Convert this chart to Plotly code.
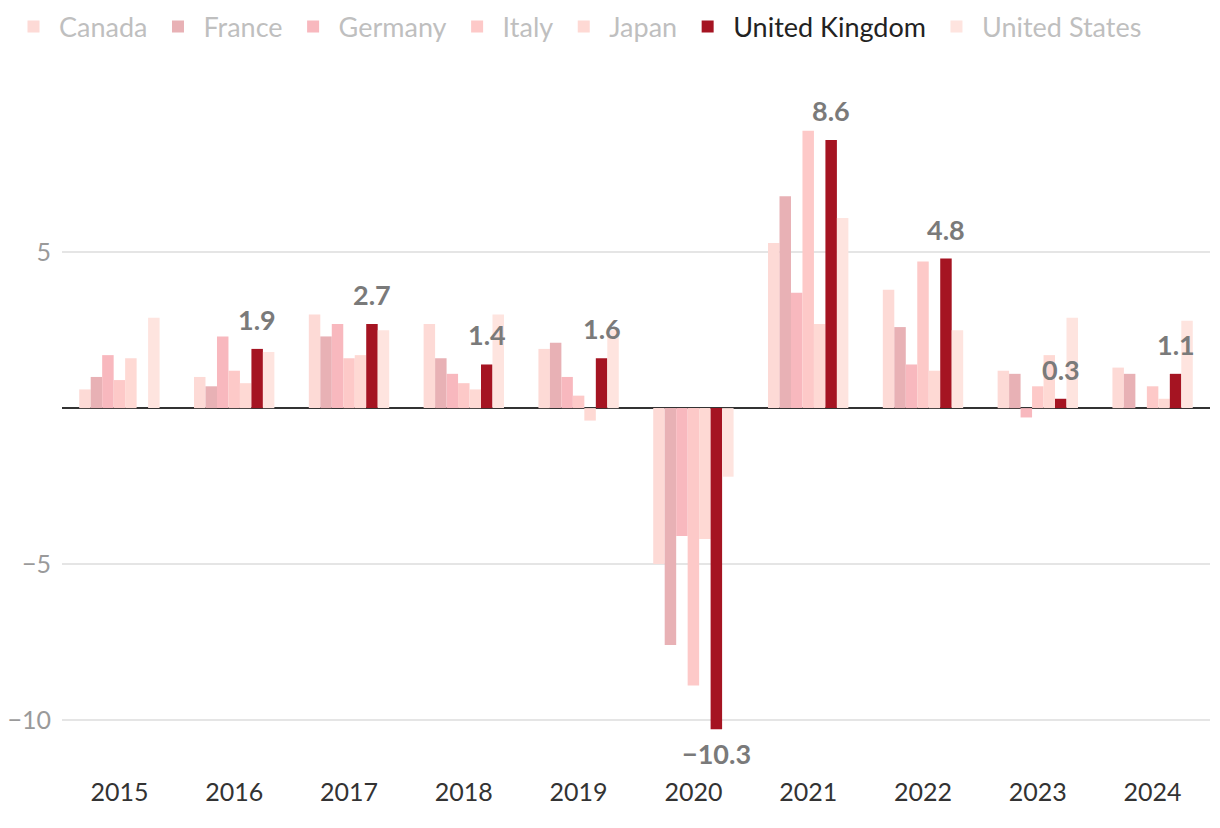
import plotly.graph_objects as go

years = ["2015", "2016", "2017", "2018", "2019", "2020", "2021", "2022", "2023", "2024"]

canada = [0.6, 1.0, 3.0, 2.7, 1.9, -5.0, 5.3, 3.8, 1.2, 1.3]
france = [1.0, 0.7, 2.3, 1.6, 2.1, -7.6, 6.8, 2.6, 1.1, 1.1]
germany = [1.7, 2.3, 2.7, 1.1, 1.0, -4.1, 3.7, 1.4, -0.3, None]
italy = [0.9, 1.2, 1.6, 0.8, 0.4, -8.9, 8.9, 4.7, 0.7, 0.7]
japan = [1.6, 0.8, 1.7, 0.6, -0.4, -4.2, 2.7, 1.2, 1.7, 0.3]
united_kingdom = [None, 1.9, 2.7, 1.4, 1.6, -10.3, 8.6, 4.8, 0.3, 1.1]
united_states = [2.9, 1.8, 2.5, 3.0, 2.5, -2.2, 6.1, 2.5, 2.9, 2.8]

series = [
    ("Canada", canada, "#fddad6"),
    ("France", france, "#e8b1b5"),
    ("Germany", germany, "#f8b8be"),
    ("Italy", italy, "#fdc9c8"),
    ("Japan", japan, "#fed9d4"),
    ("United Kingdom", united_kingdom, "#a51422"),
    ("United States", united_states, "#fee4df"),
]
HIGHLIGHT = "United Kingdom"

FONT = "Lato"
W, H = 1220, 828
ML, MR, MT, MB = 54, 18, 104, 85
BARGAP = 0.3

fig = go.Figure()
for name, vals, color in series:
    label = name if name == HIGHLIGHT else f"<span style='color:#bfbfbf'>{name}</span>"
    fig.add_trace(go.Bar(
        x=years, y=vals, name=label,
        marker=dict(color=color, line=dict(width=0)),
        hoverinfo="x+y",
    ))

# value labels for the highlighted series, drawn above all bars
n_series = len(series)
hi_idx = [s[0] for s in series].index(HIGHLIGHT)
cat_w = (W - ML - MR) / len(years)
bar_w = cat_w * (1 - BARGAP) / n_series
x_off = (hi_idx - (n_series - 1) / 2) * bar_w
for i, v in enumerate(united_kingdom):
    if v is None:
        continue
    txt = f"{v:.1f}".replace("-", "\u2212")
    fig.add_annotation(
        x=i, y=v, text=txt, showarrow=False,
        xshift=x_off, yshift=11 if v >= 0 else -6,
        yanchor="bottom" if v >= 0 else "top",
        font=dict(family=FONT, size=27, color="#7a7a7a", weight=700),
    )

fig.update_layout(
    width=W, height=H,
    barmode="group", bargap=BARGAP, bargroupgap=0,
    plot_bgcolor="white", paper_bgcolor="white",
    margin=dict(l=ML, r=MR, t=MT, b=MB, autoexpand=False),
    font=dict(family=FONT, size=24, color="#333"),
    showlegend=True,
    legend=dict(
        orientation="h", xref="container", yref="container",
        x=0.0, y=0.977, xanchor="left", yanchor="middle",
        font=dict(family=FONT, size=27, color="#222"),
        itemclick=False, itemdoubleclick=False,
        itemwidth=41,
        traceorder="normal",
    ),
)
fig.update_xaxes(
    type="category", range=[-0.5, len(years) - 0.5],
    showgrid=False, showline=False, ticks="",
    tickfont=dict(family=FONT, size=25, color="#333"),
    ticklabelstandoff=24,
)
fig.update_yaxes(
    range=[-11, 9.5],
    tickvals=[-10, -5, 5],
    showgrid=True, gridcolor="#e5e5e5", gridwidth=2,
    zeroline=True, zerolinecolor="#333", zerolinewidth=2,
    showline=False, ticks="",
    tickfont=dict(family=FONT, size=25, color="#9a9a9a"),
    ticklabelstandoff=10,
)

fig.write_html("out.html")
